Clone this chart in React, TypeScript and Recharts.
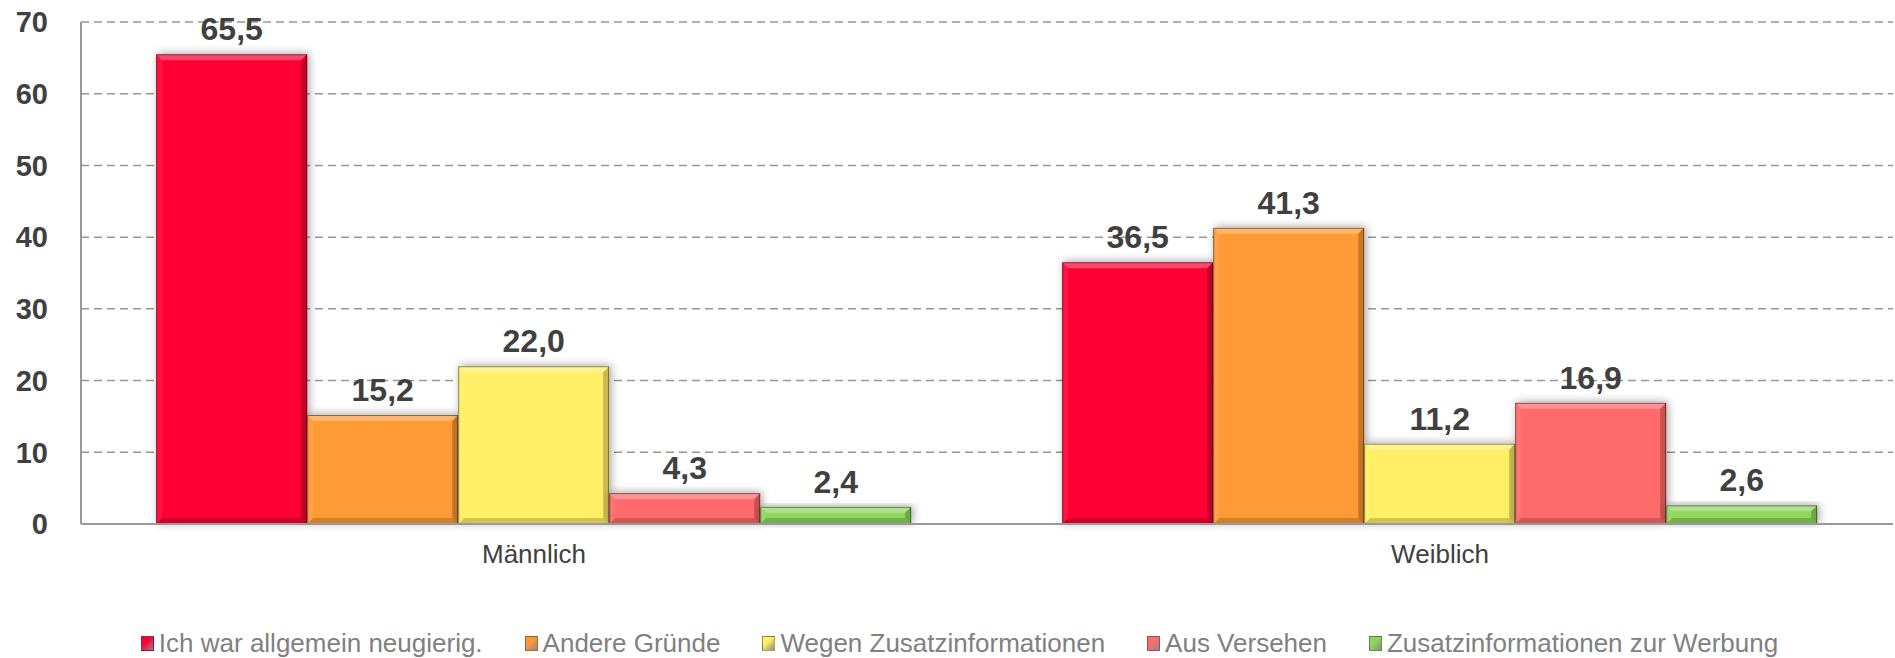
import {
  BarChart, Bar, XAxis, YAxis, CartesianGrid, LabelList, Legend,
} from 'recharts'

const categories = ['Männlich', 'Weiblich']

const seriesNames = [
  'Ich war allgemein neugierig.',
  'Andere Gründe',
  'Wegen Zusatzinformationen',
  'Aus Versehen',
  'Zusatzinformationen zur Werbung',
]

// values per series, in the order of categories
const neugierig = [65.5, 36.5]
const andere = [15.2, 41.3]
const zusatz = [22.0, 11.2]
const versehen = [4.3, 16.9]
const werbung = [2.4, 2.6]

const yTicks = [0, 10, 20, 30, 40, 50, 60, 70]

const seriesValues = [neugierig, andere, zusatz, versehen, werbung]
const seriesKeys = ['s0', 's1', 's2', 's3', 's4']
const seriesColors = ['#FF0036', '#FF9A36', '#FFEF66', '#FF6B6B', '#8FD65C']

const data = categories.map((name, ci) => {
  const row: Record<string, string | number> = { name }
  seriesKeys.forEach((k, si) => { row[k] = seriesValues[si][ci] })
  return row
})

const FONT = '"Liberation Sans", Arial, sans-serif'
const fmt = (v: unknown) => Number(v).toFixed(1).replace('.', ',')

function BevelBar(props: any) {
  const { x, y, width, height, fill } = props
  if (!height || height <= 0) return null
  const b = Math.min(6, height / 2)
  return (
    <g>
      <rect x={x} y={y} width={width} height={height} fill={fill} filter="url(#barShadow)" />
      {/* top highlight */}
      <polygon
        points={`${x},${y} ${x + width},${y} ${x + width - b},${y + b} ${x + b},${y + b}`}
        fill="#ffffff" fillOpacity={0.28}
      />
      {/* left light */}
      <polygon
        points={`${x},${y} ${x + b},${y + b} ${x + b},${y + height - b} ${x},${y + height}`}
        fill="#ffffff" fillOpacity={0.08}
      />
      {/* right shadow */}
      <polygon
        points={`${x + width},${y} ${x + width},${y + height} ${x + width - b},${y + height - b} ${x + width - b},${y + b}`}
        fill="#000000" fillOpacity={0.22}
      />
      {/* bottom shadow */}
      <polygon
        points={`${x},${y + height} ${x + width},${y + height} ${x + width - b},${y + height - b} ${x + b},${y + height - b}`}
        fill="#000000" fillOpacity={0.18}
      />
      <rect x={x + 0.5} y={y + 0.5} width={width - 1} height={height - 1} fill="none" stroke="#000" strokeOpacity={0.45} />
    </g>
  )
}

function LegendContent() {
  return (
    <div style={{
      display: 'flex', justifyContent: 'center', alignItems: 'center',
      height: 30, fontFamily: FONT, fontSize: 26, color: '#808080', paddingLeft: 68,
    }}>
      {seriesNames.map((n, i) => (
        <div key={n} style={{ display: 'flex', alignItems: 'center', marginRight: 42 }}>
          <span style={{
            display: 'inline-block', width: 11, height: 13, marginRight: 5,
            background: `linear-gradient(135deg, ${seriesColors[i]} 40%, rgba(0,0,0,0.45))`,
            border: '1px solid rgba(0,0,0,0.3)',
          }} />
          <span>{n}</span>
        </div>
      ))}
    </div>
  )
}

export default function App() {
  return (
    <div style={{ position: 'absolute', left: 0, top: 0, background: '#fff' }}>
      <BarChart
        width={1895}
        height={658}
        data={data}
        margin={{ top: 22, right: 2, left: 0, bottom: 0 }}
        barCategoryGap="8.3%"
        barGap={0}
      >
        <defs>
          <filter id="barShadow" x="-20%" y="-20%" width="140%" height="140%">
            <feDropShadow dx="2" dy="-1" stdDeviation="4" floodColor="#000" floodOpacity="0.35" />
          </filter>
        </defs>
        <CartesianGrid vertical={false} stroke="#969696" strokeWidth={1.5} strokeDasharray="8 5" />
        <XAxis
          dataKey="name"
          height={104}
          tickLine={false}
          axisLine={{ stroke: '#999', strokeWidth: 2 }}
          tickMargin={15}
          tick={{ fill: '#404040', fontSize: 26, fontFamily: FONT }}
        />
        <YAxis
          width={81}
          domain={[0, 70]}
          ticks={yTicks}
          interval={0}
          tickLine={false}
          axisLine={{ stroke: '#999', strokeWidth: 2 }}
          tickMargin={27}
          tick={{ fill: '#404040', fontSize: 29, fontWeight: 'bold', fontFamily: FONT }}
        />
        <Legend verticalAlign="bottom" height={30} content={() => <LegendContent />} />
        {seriesKeys.map((k, i) => (
          <Bar
            key={k}
            dataKey={k}
            name={seriesNames[i]}
            fill={seriesColors[i]}
            shape={<BevelBar />}
            isAnimationActive={false}
          >
            <LabelList
              dataKey={k}
              position="top"
              offset={14}
              formatter={fmt}
              style={{ fill: '#404040', fontSize: 32, fontWeight: 'bold', fontFamily: FONT }}
            />
          </Bar>
        ))}
      </BarChart>
    </div>
  )
}
